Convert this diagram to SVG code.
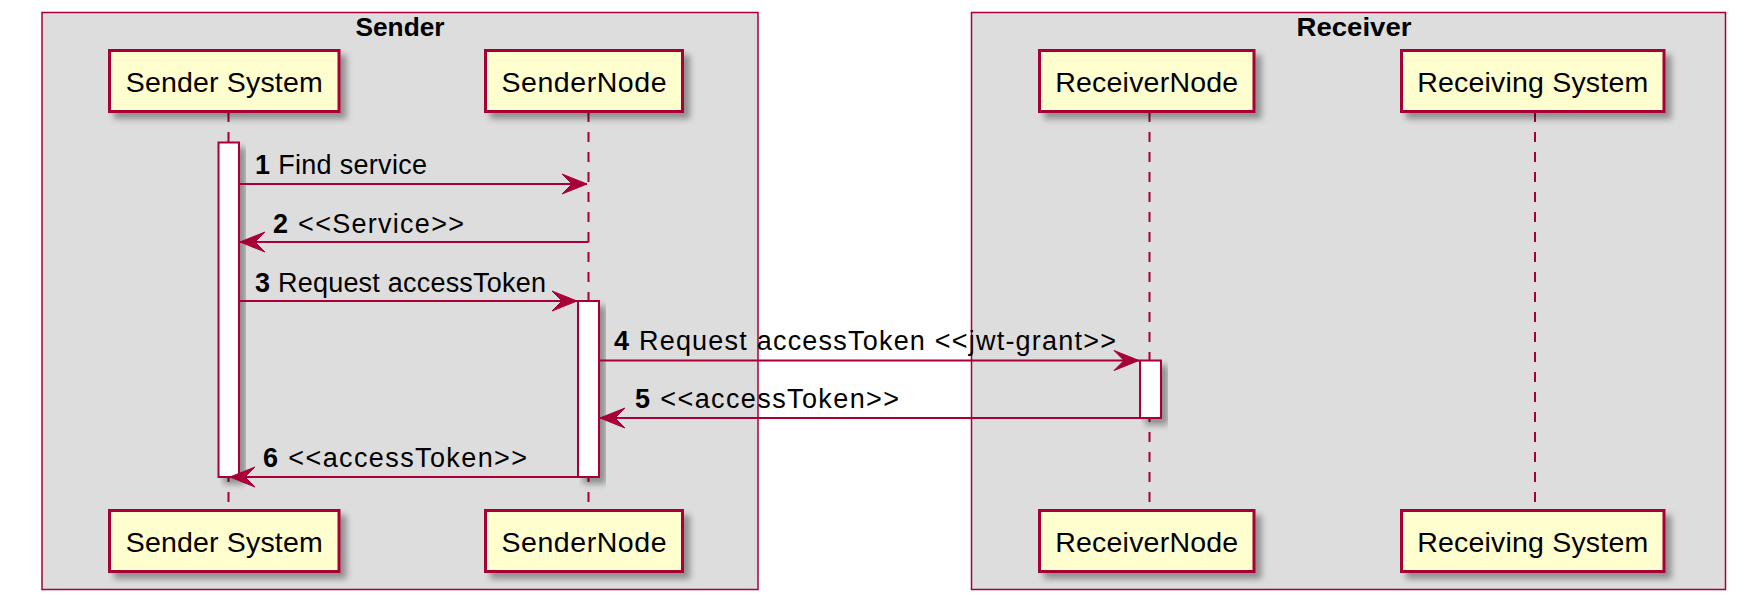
<svg xmlns="http://www.w3.org/2000/svg" width="1749" height="600" viewBox="0 0 1749 600">
<defs>
<filter id="sh" x="-20%" y="-20%" width="150%" height="150%">
<feGaussianBlur in="SourceAlpha" stdDeviation="3"/>
<feOffset dx="6" dy="6" result="b"/>
<feFlood flood-color="#000" flood-opacity="0.35"/>
<feComposite in2="b" operator="in"/>
<feMerge><feMergeNode/><feMergeNode in="SourceGraphic"/></feMerge>
</filter>
<marker id="ah" viewBox="-26 -11 28 22" refX="0" refY="0" markerWidth="28" markerHeight="22" markerUnits="userSpaceOnUse" orient="auto">
<polygon points="0,0 -25,-10 -15,0 -25,10" fill="#A80036" stroke="#A80036" stroke-width="1"/>
</marker>
</defs>
<style>
.grp{fill:#DDDDDD;stroke:#A80036;stroke-width:1.5}
.gt{font-family:"Liberation Sans",Arial,sans-serif;font-weight:bold;font-size:26px;fill:#000;text-anchor:middle}
.pb{fill:#FEFECE;stroke:#A80036;stroke-width:3}
.pt{font-family:"Liberation Sans",Arial,sans-serif;font-size:28.5px;fill:#000;text-anchor:middle}
.ll{stroke:#A80036;stroke-width:2;stroke-dasharray:10,10;fill:none}
.act{fill:#FFFFFF;stroke:#A80036;stroke-width:2}
.msg{stroke:#A80036;stroke-width:2;fill:none;marker-end:url(#ah)}
.ml{font-family:"Liberation Sans",Arial,sans-serif;font-size:27px;fill:#000}
.ml tspan.n{font-weight:bold}
</style>
<rect width="1749" height="600" fill="#FFFFFF"/>
<g id="box-sender">
<rect class="grp" x="42" y="12.5" width="716" height="577"/>
<text class="gt" x="400" y="36" textLength="89" lengthAdjust="spacingAndGlyphs">Sender</text>
</g>
<g id="box-receiver">
<rect class="grp" x="971.5" y="12.5" width="754" height="577"/>
<text class="gt" x="1354" y="36" textLength="115" lengthAdjust="spacingAndGlyphs">Receiver</text>
</g>
<g id="lifelines">
<line class="ll" x1="228.5" y1="112" x2="228.5" y2="510"/>
<line class="ll" x1="588.5" y1="112" x2="588.5" y2="510"/>
<line class="ll" x1="1149.5" y1="112" x2="1149.5" y2="510"/>
<line class="ll" x1="1535" y1="112" x2="1535" y2="510"/>
</g>
<g id="activations">
<rect class="act" filter="url(#sh)" x="218.5" y="142.5" width="20.5" height="334.5"/>
<rect class="act" filter="url(#sh)" x="578" y="301" width="21" height="176"/>
<rect class="act" filter="url(#sh)" x="1140" y="360.5" width="21" height="57.5"/>
</g>
<g id="connectors">
<line class="msg" x1="239" y1="184" x2="587" y2="184"/>
<text class="ml" x="255" y="174" textLength="172" lengthAdjust="spacing"><tspan class="n">1</tspan> Find service</text>
<line class="msg" x1="588.5" y1="242" x2="240" y2="242"/>
<text class="ml" x="273" y="233" textLength="191" lengthAdjust="spacing"><tspan class="n">2</tspan> &lt;&lt;Service&gt;&gt;</text>
<line class="msg" x1="239" y1="301" x2="577" y2="301"/>
<text class="ml" x="255" y="292" textLength="291" lengthAdjust="spacing"><tspan class="n">3</tspan> Request accessToken</text>
<line class="msg" x1="599" y1="360.5" x2="1139" y2="360.5"/>
<text class="ml" x="614" y="350" textLength="502" lengthAdjust="spacing"><tspan class="n">4</tspan> Request accessToken &lt;&lt;jwt-grant&gt;&gt;</text>
<line class="msg" x1="1140" y1="418" x2="600" y2="418"/>
<text class="ml" x="635" y="408" textLength="264" lengthAdjust="spacing"><tspan class="n">5</tspan> &lt;&lt;accessToken&gt;&gt;</text>
<line class="msg" x1="578" y1="477" x2="230" y2="477"/>
<text class="ml" x="263" y="467" textLength="264" lengthAdjust="spacing"><tspan class="n">6</tspan> &lt;&lt;accessToken&gt;&gt;</text>
</g>
<g id="p-sender-system-top">
<rect class="pb" filter="url(#sh)" x="109.5" y="50.5" width="229.5" height="61"/>
<text class="pt" x="224.2" y="92" textLength="197" lengthAdjust="spacing">Sender System</text>
</g>
<g id="p-sendernode-top">
<rect class="pb" filter="url(#sh)" x="485.5" y="50.5" width="197" height="61"/>
<text class="pt" x="584" y="92" textLength="165" lengthAdjust="spacing">SenderNode</text>
</g>
<g id="p-receivernode-top">
<rect class="pb" filter="url(#sh)" x="1039.5" y="50.5" width="214.5" height="61"/>
<text class="pt" x="1146.7" y="92" textLength="183" lengthAdjust="spacing">ReceiverNode</text>
</g>
<g id="p-receiving-system-top">
<rect class="pb" filter="url(#sh)" x="1401.5" y="50.5" width="262.5" height="61"/>
<text class="pt" x="1532.7" y="92" textLength="231" lengthAdjust="spacing">Receiving System</text>
</g>
<g id="p-sender-system-bottom">
<rect class="pb" filter="url(#sh)" x="109.5" y="510.5" width="229.5" height="61"/>
<text class="pt" x="224.2" y="552" textLength="197" lengthAdjust="spacing">Sender System</text>
</g>
<g id="p-sendernode-bottom">
<rect class="pb" filter="url(#sh)" x="485.5" y="510.5" width="197" height="61"/>
<text class="pt" x="584" y="552" textLength="165" lengthAdjust="spacing">SenderNode</text>
</g>
<g id="p-receivernode-bottom">
<rect class="pb" filter="url(#sh)" x="1039.5" y="510.5" width="214.5" height="61"/>
<text class="pt" x="1146.7" y="552" textLength="183" lengthAdjust="spacing">ReceiverNode</text>
</g>
<g id="p-receiving-system-bottom">
<rect class="pb" filter="url(#sh)" x="1401.5" y="510.5" width="262.5" height="61"/>
<text class="pt" x="1532.7" y="552" textLength="231" lengthAdjust="spacing">Receiving System</text>
</g>
</svg>
